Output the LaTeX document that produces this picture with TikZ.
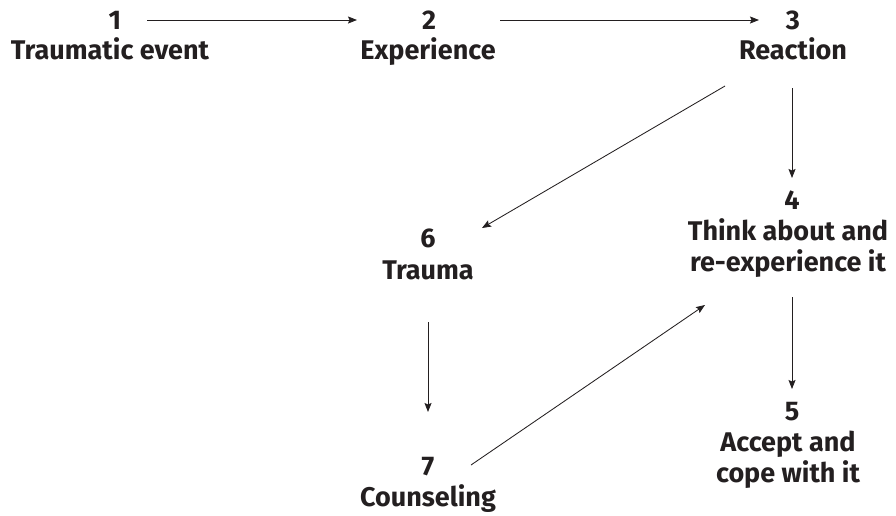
\documentclass[tikz,border=0pt]{standalone}
\usepackage{fontspec}
\setmainfont{Fira Sans}
\usetikzlibrary{arrows.meta}
\definecolor{ink}{HTML}{231F20}
\tikzset{
  txt/.style={font=\bfseries\fontsize{27}{31}\selectfont, text=ink, inner sep=0pt, align=center, anchor=base},
  arr/.style={draw=ink, line width=0.85pt, -{Stealth[length=9pt,width=7pt,inset=1.5pt]}}
}
\begin{document}
\begin{tikzpicture}[x=1pt,y=-1pt]
\useasboundingbox (0,0) rectangle (896,515);
% nodes (anchor = baseline of last line)
\node[txt] (n1) at (115,29) {1};
\node[txt] (l1) at (110,59) {Traumatic event};
\node[txt] (n2) at (429,29) {2};
\node[txt] (l2) at (428,59) {Experience};
\node[txt] (n3) at (793,29) {3};
\node[txt] (l3) at (793,59) {Reaction};
\node[txt] (n4) at (792,209) {4};
\node[txt] (l4) at (788,271) {Think about and\\re-experience it};
\node[txt] (n6) at (428,247) {6};
\node[txt] (l6) at (428,279) {Trauma};
\node[txt] (n5) at (792,420) {5};
\node[txt] (l5) at (788,482) {Accept and\\cope with it};
\node[txt] (n7) at (428,475) {7};
\node[txt] (l7) at (428,506) {Counseling};
% connectors
\draw[arr] ([shift={(32,-9)}]n1.base) -- ([shift={(-72,-9)}]n2.base);
\draw[arr] ([shift={(71,-9)}]n2.base) -- ([shift={(-34,-9)}]n3.base);
\draw[arr] ([shift={(-1,29)}]l3.base) -- ([shift={(0,-31)}]n4.base);
\draw[arr] ([shift={(-68,27)}]l3.base) -- ([shift={(54,-19)}]n6.base);
\draw[arr] ([shift={(4,26)}]l4.base) -- ([shift={(0,-31)}]n5.base);
\draw[arr] ([shift={(0,43)}]l6.base) -- ([shift={(0,-63)}]n7.base);
\draw[arr] ([shift={(43,-10)}]n7.base) -- ([shift={(-83,34)}]l4.base);
\end{tikzpicture}
\end{document}
